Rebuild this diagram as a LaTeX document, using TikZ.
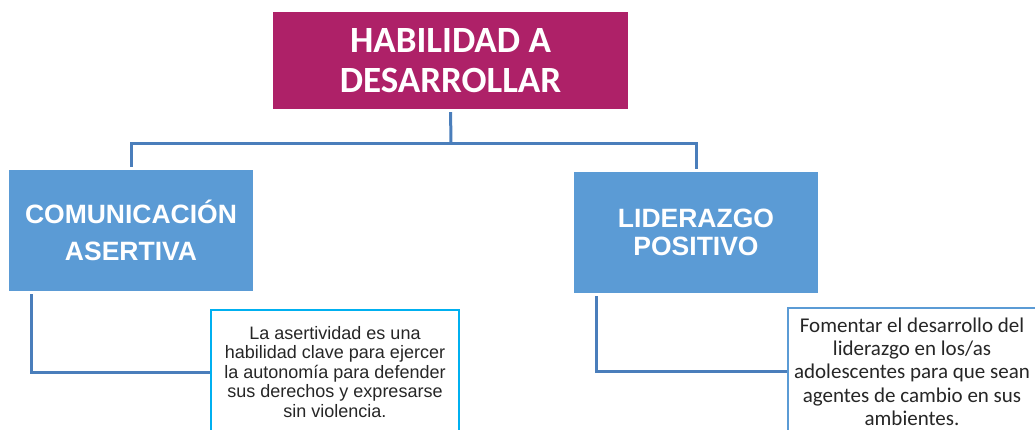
\documentclass[tikz,border=0pt]{standalone}
\usepackage{fontspec}
\setmainfont{Liberation Sans}
\newfontfamily\calibri{Carlito}
\usetikzlibrary{positioning}

\definecolor{magentabox}{HTML}{AE2168}
\definecolor{bluebox}{HTML}{5B9BD5}
\definecolor{connblue}{HTML}{4A7EBB}
\definecolor{cyanline}{HTML}{00B0F0}

\begin{document}
\begin{tikzpicture}[x=1pt,y=-1pt,
    mainbox/.style={fill=magentabox,text=white,inner sep=0pt,align=center,
        minimum width=355,minimum height=97,
        font=\calibri\bfseries\fontsize{37}{40}\selectfont},
    skillbox/.style={fill=bluebox,text=white,inner sep=0pt,align=center,
        minimum width=244,minimum height=121},
    descbox/.style={draw,line width=2.8pt,fill=white,inner sep=0pt,align=center},
    conn/.style={draw=connblue,line width=3pt}]
\clip (0,0) rectangle (1035,429);

% Top box
\node[mainbox] (hab) at (450.5,60.5) {HABILIDAD A\\DESARROLLAR};

% Skill boxes
\node[skillbox,font=\bfseries\fontsize{26.5}{37}\selectfont] (com) at (131,230.5) {COMUNICACIÓN\\ASERTIVA};
\node[skillbox,font=\bfseries\fontsize{26.5}{28}\selectfont] (lid) at (696,232.5) {LIDERAZGO\\POSITIVO};

% Descriptions
\node[descbox,draw=cyanline,minimum width=248,minimum height=124,
    text=black!85,font=\fontsize{18}{19.5}\selectfont] (asdesc) at (335,372)
    {La asertividad es una\\habilidad clave para ejercer\\la autonomía para defender\\sus derechos y expresarse\\sin violencia.};
\node[descbox,draw=bluebox,minimum width=248,minimum height=127,
    text=black!85,font=\calibri\fontsize{21}{23.3}\selectfont] (lidesc) at (912,371.5)
    {Fomentar el desarrollo del\\liderazgo en los/as\\adolescentes para que sean\\agentes de cambio en sus\\ambientes.};

% Connectors
\coordinate (hub) at (451,143);
\draw[conn,shorten <=3pt] (hab.south) -- (hub);
\draw[conn,shorten >=3pt] (hub) -| (com.north);
\draw[conn,shorten >=3pt] (hub) -| (lid.north);
\draw[conn,shorten <=3pt] ([xshift=23]com.south west) |- (asdesc.west);
\draw[conn,shorten <=3pt] ([xshift=23]lid.south west) |- (lidesc.west);
\end{tikzpicture}
\end{document}
